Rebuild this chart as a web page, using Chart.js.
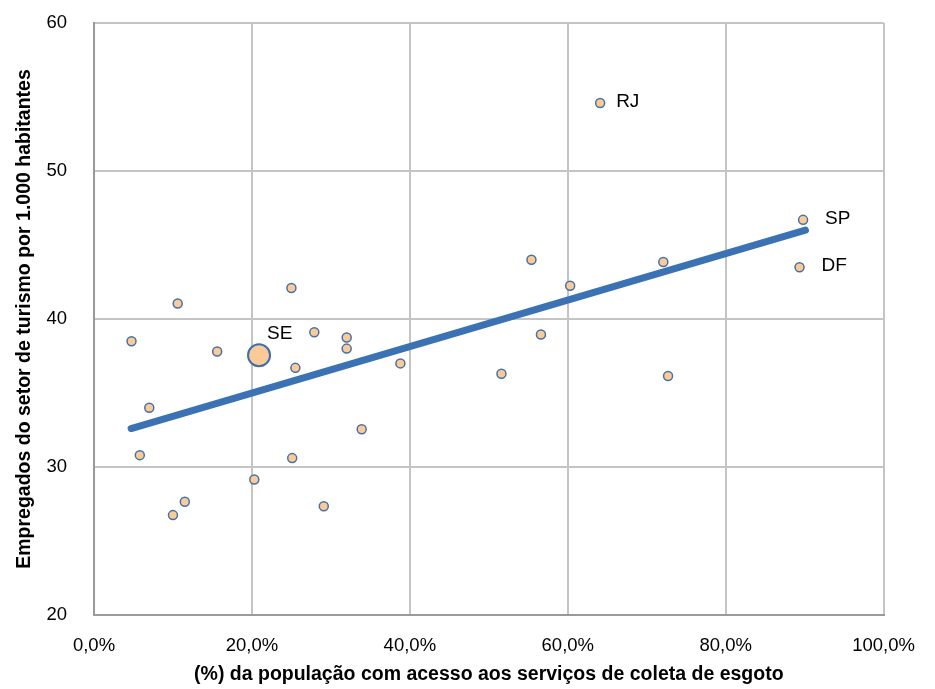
<!DOCTYPE html>
<html>
<head>
<meta charset="utf-8">
<script src="https://cdn.jsdelivr.net/npm/chart.js@4/dist/chart.umd.min.js"></script>
<style>
  html, body { margin: 0; padding: 0; background: #ffffff; }
  #wrap { width: 935px; height: 689px; }
</style>
</head>
<body>
<div id="wrap"><canvas id="c" width="935" height="689"></canvas></div>
<script>
// ---- data ----
const stateNames = ['', '', '', '', '', '', '', '', '', '', '', '', '', '', '', '', '', '', '', '', '', '', 'RJ', 'SP', 'DF', ''];
const coverage = [4.75, 10.6, 25.0, 7.0, 5.8, 15.6, 27.9, 32.0, 32.0, 25.5, 38.8, 33.9, 25.1, 20.3, 11.5, 10.0, 29.1,
                  55.4, 72.1, 60.3, 56.6, 51.6, 64.1, 89.8, 89.35, 72.7];
const employed = [38.5, 41.05, 42.1, 34.0, 30.8, 37.8, 39.1, 38.75, 38.0, 36.7, 37.0, 32.55, 30.6, 29.15, 27.65, 26.75, 27.35,
                  44.0, 43.85, 42.25, 38.95, 36.3, 54.6, 46.7, 43.5, 36.15];
const highlightName = ['SE'];
const highlightCoverage = [20.9];
const highlightEmployed = [37.55];
const trendCoverage = [4.7, 90.1];
const trendEmployed = [32.6, 46.0];
const xTicks = [0, 20, 40, 60, 80, 100];
const yTicks = [20, 30, 40, 50, 60];
const xTitle = '(%) da população com acesso aos serviços de coleta de esgoto';
const yTitle = 'Empregados do setor de turismo por 1.000 habitantes';

const FONT = "'Liberation Sans', Arial, sans-serif";

const statePoints = coverage.map((x, i) => ({ x: x, y: employed[i], name: stateNames[i] }));
const highlightPoints = highlightCoverage.map((x, i) => ({ x: x, y: highlightEmployed[i], name: highlightName[i] }));
const trendPoints = trendCoverage.map((x, i) => ({ x: x, y: trendEmployed[i] }));

const labelOffsets = { RJ: [16, -1], SP: [22, -1], DF: [22, -1], SE: [8, -21] };

const pointLabels = {
  id: 'pointLabels',
  afterDatasetsDraw(chart) {
    const ctx = chart.ctx;
    ctx.save();
    ctx.font = '19px ' + FONT;
    ctx.fillStyle = '#000000';
    ctx.textAlign = 'left';
    ctx.textBaseline = 'middle';
    chart.data.datasets.forEach((ds, di) => {
      if (!ds.showNames) return;
      const meta = chart.getDatasetMeta(di);
      ds.data.forEach((p, i) => {
        if (!p.name) return;
        const el = meta.data[i];
        const off = labelOffsets[p.name] || [10, 0];
        ctx.fillText(p.name, el.x + off[0], el.y + off[1]);
      });
    });
    ctx.restore();
  }
};

new Chart(document.getElementById('c'), {
  type: 'scatter',
  data: {
    datasets: [
      {
        label: 'Estados',
        data: statePoints,
        showNames: true,
        backgroundColor: '#FBCB97',
        borderColor: '#4670A8',
        borderWidth: 1.5,
        pointRadius: 4.5,
        order: 1
      },
      {
        label: 'SE',
        data: highlightPoints,
        showNames: true,
        backgroundColor: '#FBCB97',
        borderColor: '#3F6FAE',
        borderWidth: 2,
        pointRadius: 11,
        order: 0
      },
      {
        label: 'Tendência',
        data: trendPoints,
        showLine: true,
        borderColor: '#3A72B4',
        borderWidth: 7,
        borderCapStyle: 'round',
        pointRadius: 0,
        pointHoverRadius: 0,
        order: 2
      }
    ]
  },
  options: {
    responsive: false,
    animation: false,
    events: [],
    layout: { padding: { top: 23, right: 48, bottom: 0, left: 0 } },
    plugins: {
      legend: { display: false },
      tooltip: { enabled: false }
    },
    scales: {
      x: {
        type: 'linear',
        min: 0,
        max: 100,
        afterBuildTicks(scale) { scale.ticks = xTicks.map(v => ({ value: v })); },
        afterFit(scale) { scale.height = 74; },
        ticks: {
          padding: 20,
          color: '#000000',
          font: { family: FONT, size: 18.5 },
          maxRotation: 0,
          callback: v => v.toFixed(1).replace('.', ',') + '%'
        },
        grid: { color: '#C4C4C4', lineWidth: 2, drawTicks: false },
        border: { color: '#9A9A9A', width: 2 },
        title: {
          display: true,
          text: xTitle,
          color: '#000000',
          font: { family: FONT, size: 19.5, weight: 'bold' },
          padding: { top: 0, bottom: 2.5 }
        }
      },
      y: {
        type: 'linear',
        min: 20,
        max: 60,
        afterBuildTicks(scale) { scale.ticks = yTicks.map(v => ({ value: v })); },
        afterFit(scale) { scale.width = 94; },
        ticks: {
          padding: 0,
          color: '#000000',
          font: { family: FONT, size: 18.5 }
        },
        grid: { color: '#C4C4C4', lineWidth: 2, drawTicks: true, tickLength: 27, tickColor: 'rgba(0,0,0,0)' },
        border: { color: '#9A9A9A', width: 2 },
        title: {
          display: true,
          text: yTitle,
          color: '#000000',
          font: { family: FONT, size: 19.5, weight: 'bold' },
          padding: { top: 13, bottom: 0 }
        }
      }
    }
  },
  plugins: [pointLabels]
});
</script>
</body>
</html>
